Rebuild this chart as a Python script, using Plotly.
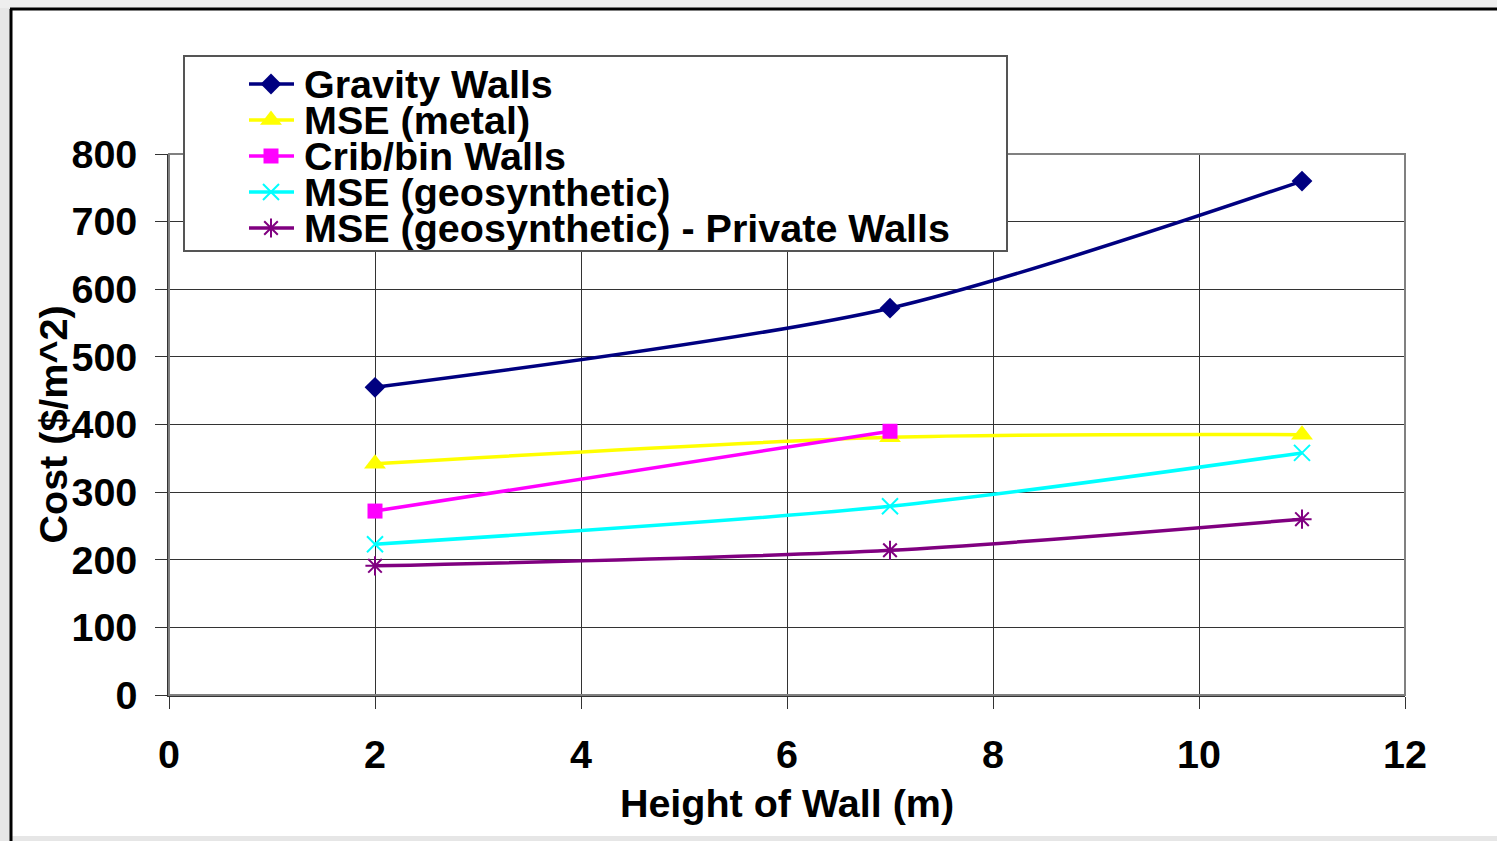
import plotly.graph_objects as go

# ---- data ----
series_names = ["Gravity Walls", "MSE (metal)", "Crib/bin Walls",
                "MSE (geosynthetic)", "MSE (geosynthetic) - Private Walls"]
gravity_h = [2, 7, 11]
gravity_cost = [455, 572, 760]
metal_h = [2, 7, 11]
metal_cost = [342, 381, 385]
crib_h = [2, 7]
crib_cost = [272, 390]
geo_h = [2, 7, 11]
geo_cost = [223, 279, 358]
private_h = [2, 7, 11]
private_cost = [191, 214, 260]

x_ticks = [0, 2, 4, 6, 8, 10, 12]
y_ticks = [0, 100, 200, 300, 400, 500, 600, 700, 800]

colors = ["#000080", "#FFFF00", "#FF00FF", "#00FFFF", "#800080"]
symbols = ["diamond", "triangle-up", "square", "x-thin", "asterisk"]
msizes = [16, 19, 15, 16, 16]

xs = [gravity_h, metal_h, crib_h, geo_h, private_h]
ys = [gravity_cost, metal_cost, crib_cost, geo_cost, private_cost]

W, H = 1497, 841
L, R, T, B = 169, 92, 154, 146   # plot-area edges in pixels

FONT = "Arial, Liberation Sans, sans-serif"
FS = 39.5

fig = go.Figure()
for i in range(5):
    line_sym = symbols[i] in ("x-thin", "asterisk")
    fig.add_trace(go.Scatter(
        x=xs[i], y=ys[i], name=series_names[i], mode="lines+markers",
        line=dict(color=colors[i], width=3.5, shape="spline", smoothing=0.8),
        marker=dict(symbol=symbols[i], size=msizes[i], color=colors[i],
                    line=dict(color=colors[i], width=2 if line_sym else 0)),
        showlegend=False, cliponaxis=False))

# ---- custom legend drawn on a full-page pixel-scaled subplot (x2/y2) ----
leg_rows = [84, 120, 156, 192, 228]
for i in range(5):
    line_sym = symbols[i] in ("x-thin", "asterisk")
    fig.add_trace(go.Scatter(
        x=[249, 294], y=[leg_rows[i], leg_rows[i]], xaxis="x2", yaxis="y2",
        mode="lines", line=dict(color=colors[i], width=3.5),
        showlegend=False, hoverinfo="skip"))
    fig.add_trace(go.Scatter(
        x=[271], y=[leg_rows[i]], xaxis="x2", yaxis="y2", mode="markers",
        marker=dict(symbol=symbols[i], size=msizes[i], color=colors[i],
                    line=dict(color=colors[i], width=2 if line_sym else 0)),
        showlegend=False, hoverinfo="skip"))
    fig.add_annotation(text=series_names[i], xref="x2", yref="y2",
                       x=302, y=leg_rows[i], xanchor="left", yanchor="middle",
                       showarrow=False,
                       font=dict(family=FONT, size=FS, color="black", weight="bold"))

# y-axis title
fig.add_annotation(text="Cost ($/m^2)", xref="x2", yref="y2", x=52, y=(T + H - B) / 2,
                   textangle=-90, showarrow=False, xanchor="center", yanchor="middle",
                   font=dict(family=FONT, size=FS, color="black", weight="bold"))

shapes = [
    # outer gray surroundings
    dict(type="rect", xref="x2", yref="y2", x0=0, x1=10, y0=0, y1=H,
         fillcolor="#e6e6e6", line=dict(width=0), layer="below"),
    dict(type="rect", xref="x2", yref="y2", x0=0, x1=W, y0=0, y1=8,
         fillcolor="#eeeeee", line=dict(width=0), layer="below"),
    dict(type="rect", xref="x2", yref="y2", x0=0, x1=W, y0=836, y1=H,
         fillcolor="#e6e6e6", line=dict(width=0), layer="below"),
    # black frame
    dict(type="line", xref="x2", yref="y2", x0=10, x1=W, y0=9, y1=9,
         line=dict(color="black", width=3), layer="above"),
    dict(type="line", xref="x2", yref="y2", x0=11, x1=11, y0=9, y1=H,
         line=dict(color="black", width=3), layer="above"),
    # plot-area border
    dict(type="rect", xref="x2", yref="y2", x0=L, x1=W - R, y0=T, y1=H - B,
         line=dict(color="#808080", width=2), layer="below"),
    # legend box
    dict(type="rect", xref="x2", yref="y2", x0=184, x1=1007, y0=56, y1=251,
         fillcolor="white", line=dict(color="#555555", width=2), layer="below"),
]

fig.update_layout(
    width=W, height=H,
    margin=dict(l=0, r=0, t=0, b=0, pad=0, autoexpand=False),
    paper_bgcolor="white", plot_bgcolor="rgba(0,0,0,0)",
    font=dict(family=FONT, color="black"),
    shapes=shapes,
    xaxis=dict(domain=[L / W, (W - R) / W], anchor="y",
               range=[0, 12], tickvals=x_ticks, ticktext=[str(v) for v in x_ticks],
               showgrid=True, gridcolor="#333333", gridwidth=1,
               showline=True, linecolor="#333333", linewidth=1.5,
               ticks="outside", ticklen=12, tickcolor="#333333",
               ticklabelstandoff=12, zeroline=False, automargin=False,
               tickfont=dict(family=FONT, size=FS, color="black", weight="bold"),
               title=dict(text="Height of Wall (m)", standoff=14,
                          font=dict(family=FONT, size=FS, color="black", weight="bold"))),
    yaxis=dict(domain=[B / H, (H - T) / H], anchor="x",
               range=[0, 800], tickvals=y_ticks, ticktext=[str(v) for v in y_ticks],
               showgrid=True, gridcolor="#333333", gridwidth=1,
               showline=True, linecolor="#333333", linewidth=1.5,
               ticks="outside", ticklen=12, tickcolor="#333333",
               ticklabelstandoff=10, zeroline=False, automargin=False,
               tickfont=dict(family=FONT, size=FS, color="black", weight="bold")),
    xaxis2=dict(domain=[0, 1], anchor="y2", range=[0, W], visible=False, fixedrange=True),
    yaxis2=dict(domain=[0, 1], anchor="x2", range=[H, 0], autorange=False,
                visible=False, fixedrange=True),
)

fig.write_html("out.html", post_script="document.body.style.margin='0px';",
               config={"displayModeBar": False})
